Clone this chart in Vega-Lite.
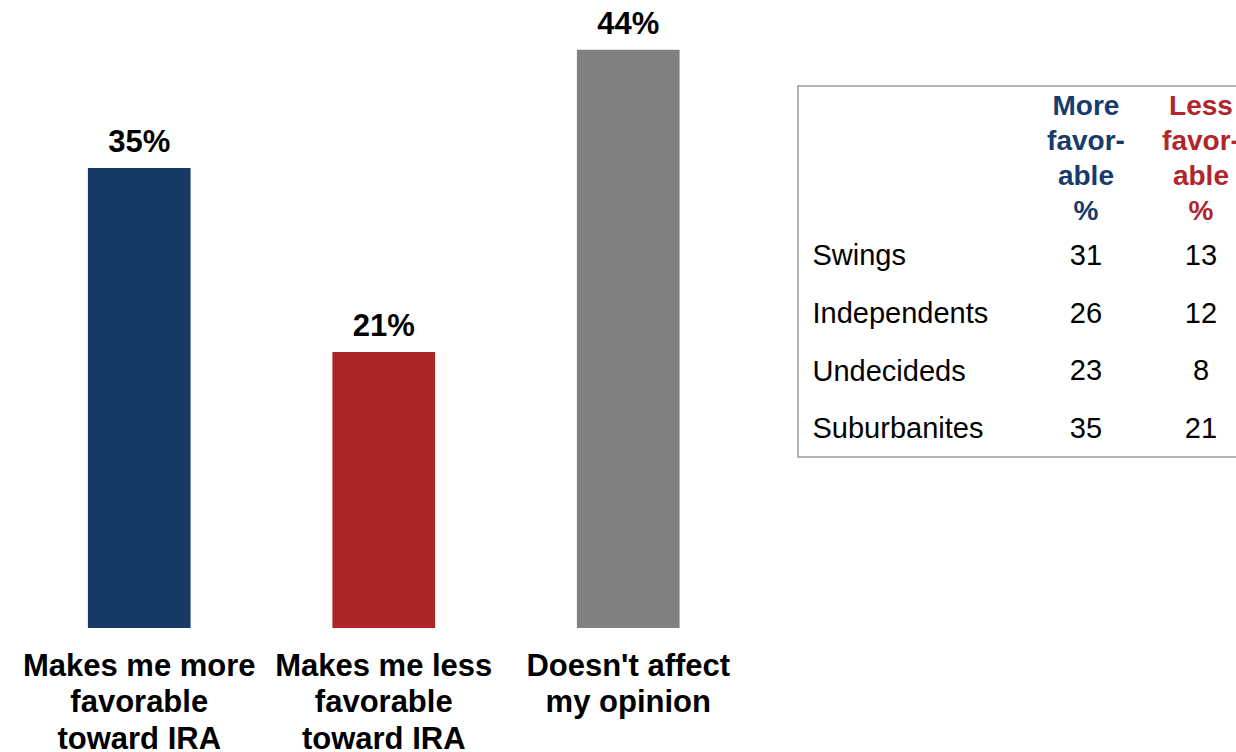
{
  "$schema": "https://vega.github.io/schema/vega-lite/v6.json",
  "padding": {"left": 17, "top": 8, "right": 0, "bottom": 0},
  "autosize": {"type": "pad"},
  "background": "white",
  "config": {
    "font": "Liberation Sans",
    "view": {"stroke": null},
    "concat": {"spacing": 46}
  },
  "resolve": {"scale": {"x": "independent", "y": "independent", "color": "independent"}},
  "hconcat": [
    {
      "width": 733.5,
      "height": 542,
      "data": {"values": [
        {"response": "Makes me more\nfavorable\ntoward IRA", "share": 0.35},
        {"response": "Makes me less\nfavorable\ntoward IRA", "share": 0.21},
        {"response": "Doesn't affect\nmy opinion", "share": 0.44}
      ]},
      "encoding": {
        "x": {
          "field": "response", "type": "nominal", "sort": null,
          "scale": {"type": "band", "paddingInner": 0.58, "paddingOuter": 0.29},
          "axis": {
            "title": null, "domain": false, "ticks": false, "tickSize": 0,
            "labelAngle": 0, "labelFontSize": 31, "labelFontWeight": "bold",
            "labelColor": "black", "labelPadding": 23, "labelLineHeight": 36.5,
            "labelLimit": 0, "labelOverlap": false,
            "labelExpr": "split(datum.label, '\\n')"
          }
        },
        "y": {
          "field": "share", "type": "quantitative",
          "scale": {"domain": [0, 0.4125], "nice": false, "zero": true},
          "axis": null
        }
      },
      "layer": [
        {
          "mark": {"type": "bar", "clip": false},
          "encoding": {
            "color": {
              "field": "response", "type": "nominal", "sort": null,
              "scale": {"range": ["#163A65", "#AE2529", "#808080"]},
              "legend": null
            }
          }
        },
        {
          "mark": {"type": "text", "baseline": "bottom", "dy": -9, "fontSize": 31, "fontWeight": "bold", "color": "black", "clip": false},
          "encoding": {
            "text": {"field": "share", "type": "quantitative", "format": ".0%"}
          }
        }
      ]
    },
    {
      "width": 460,
      "height": 371,
      "view": {"stroke": "#9A9A9A", "strokeWidth": 1.5},
      "encoding": {
        "x": {
          "field": "column", "type": "nominal",
          "scale": {"type": "point", "domain": ["Group", "More", "Less"], "padding": 1, "align": 0.752},
          "axis": null
        },
        "y": {
          "field": "group", "type": "nominal",
          "scale": {"type": "point", "domain": ["h1", "h2", "Swings", "Independents", "Undecideds", "Suburbanites"], "padding": 0.7166, "align": 0.661},
          "axis": {
            "orient": "left", "title": null, "domain": false, "ticks": false, "tickSize": 0,
            "minExtent": 0, "labelAlign": "left", "labelPadding": -14, "labelBaseline": "middle",
            "labelFontSize": 29, "labelColor": "black", "labelLimit": 0,
            "labelExpr": "indexof(['h1','h2'], datum.label) >= 0 ? '' : datum.label"
          }
        }
      },
      "layer": [
        {
          "data": {"values": [
            {"group": "Swings", "column": "More", "value": 31},
            {"group": "Swings", "column": "Less", "value": 13},
            {"group": "Independents", "column": "More", "value": 26},
            {"group": "Independents", "column": "Less", "value": 12},
            {"group": "Undecideds", "column": "More", "value": 23},
            {"group": "Undecideds", "column": "Less", "value": 8},
            {"group": "Suburbanites", "column": "More", "value": 35},
            {"group": "Suburbanites", "column": "Less", "value": 21}
          ]},
          "mark": {"type": "text", "fontSize": 29, "color": "black", "baseline": "middle"},
          "encoding": {"text": {"field": "value", "type": "quantitative"}}
        },
        {
          "data": {"values": [
            {"group": "h1", "column": "More", "heading": "More\nfavor-\nable\n%"},
            {"group": "h1", "column": "Less", "heading": "Less\nfavor-\nable\n%"}
          ]},
          "mark": {"type": "text", "fontSize": 28, "fontWeight": "bold", "baseline": "middle", "lineBreak": "\n", "lineHeight": 35, "dy": -34},
          "encoding": {
            "text": {"field": "heading", "type": "nominal"},
            "color": {
              "field": "column", "type": "nominal",
              "scale": {"domain": ["More", "Less"], "range": ["#173B6B", "#B0262B"]},
              "legend": null
            }
          }
        }
      ]
    }
  ]
}
